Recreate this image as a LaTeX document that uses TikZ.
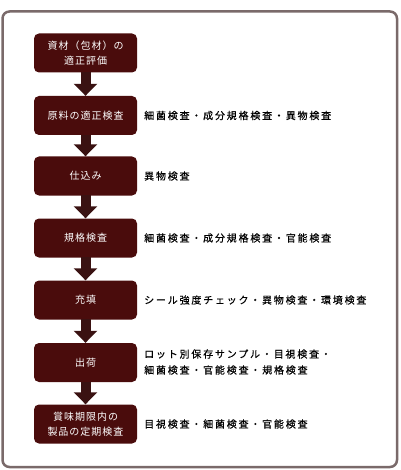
\documentclass[tikz,border=0pt]{standalone}
\usepackage{fontspec}
\setmainfont{Noto Sans CJK JP}
\usetikzlibrary{arrows.meta}
\definecolor{boxc}{HTML}{4A0C0C}
\definecolor{arrc}{HTML}{3A1212}
\definecolor{framec}{HTML}{7A6A6A}
\begin{document}
\begin{tikzpicture}[x=1pt,y=-1pt,
  stepbox/.style={fill=boxc, rounded corners=5pt, minimum width=103pt, minimum height=39pt,
    text=white, align=center, inner sep=0pt,
    font=\fontsize{10}{15}\selectfont\addfontfeatures{LetterSpace=10}},
  note/.style={anchor=west, align=left, inner sep=0pt, text=black,
    font=\fontsize{10}{16}\selectfont\addfontfeatures{LetterSpace=18,FakeBold=0.4}},
  flow/.style={draw=arrc, line width=10pt, -{Triangle[width=23pt,length=12pt]}, shorten <=-0.5pt}]
\useasboundingbox (0,0) rectangle (400,470);
\fill[white] (0,0) rectangle (400,470);
\draw[framec, line width=2.5pt, rounded corners=7pt] (2.5,11.5) rectangle (397,467);
\node[stepbox] (s1) at (85.5,53) {資材（包材）の\\適正評価};
\node[stepbox] (s2) at (85.5,115.5) {原料の適正検査};
\node[stepbox] (s3) at (85.5,176) {仕込み};
\node[stepbox] (s4) at (85.5,238) {規格検査};
\node[stepbox] (s5) at (85.5,300) {充填};
\node[stepbox] (s6) at (85.5,362.5) {出荷};
\node[stepbox] (s7) at (85.5,424) {賞味期限内の\\製品の定期検査};
\foreach \a/\b in {s1/s2,s2/s3,s3/s4,s4/s5,s5/s6,s6/s7}
  \draw[flow] (\a.south) -- (\b.north);
\node[note] (n2) at (144,115.5) {細菌検査・成分規格検査・異物検査};
\node[note] (n3) at (144,176) {異物検査};
\node[note] (n4) at (144,238) {細菌検査・成分規格検査・官能検査};
\node[note] (n5) at (144,300) {シール強度チェック・異物検査・環境検査};
\node[note] (n6) at (144,362) {ロット別保存サンプル・目視検査・\\細菌検査・官能検査・規格検査};
\node[note] (n7) at (144,424) {目視検査・細菌検査・官能検査};
\end{tikzpicture}
\end{document}
